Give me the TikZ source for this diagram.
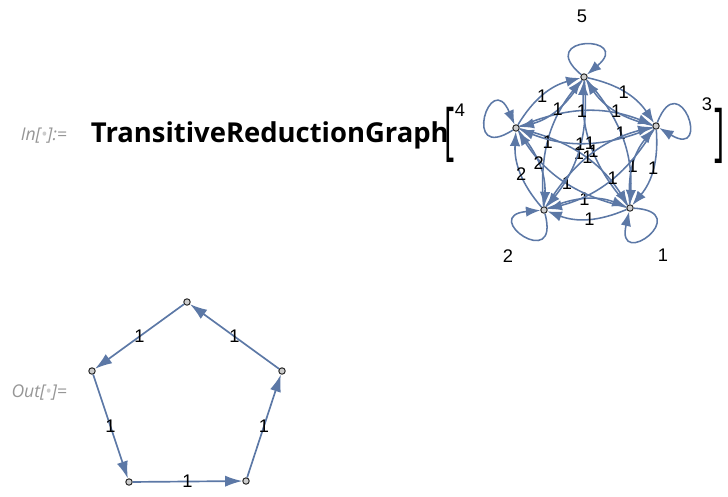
\documentclass[tikz,border=0pt]{standalone}
\usepackage{fontspec}
\usepackage{tikz}
\usetikzlibrary{arrows.meta}
\newfontfamily\labfont{Liberation Sans}
\newfontfamily\osfont{Open Sans}
\definecolor{edgeblue}{RGB}{92,120,166}
\definecolor{promptgray}{RGB}{150,150,150}
\tikzset{>=stealth}
\tikzset{
  vert/.style={circle, draw=black!85, fill=black!20, line width=0.7pt, minimum size=1.6mm, inner sep=0pt},
  edge/.style={-{Latex[length=3.6mm,width=2.6mm]}, line width=1.1pt, edgeblue},
  bigedge/.style={-{Latex[length=4.3mm,width=2.8mm]}, line width=1.2pt, edgeblue},
  wt/.style={font=\labfont\fontsize{13}{13}\selectfont, text=black, inner sep=1pt},
  prompt/.style={font=\osfont\itshape\fontsize{12.5}{12.5}\selectfont, text=promptgray, anchor=base east},
  bracket/.style={font=\osfont\fontsize{22}{22}\selectfont, inner sep=0pt},
}

\begin{document}
\begin{tikzpicture}[x=0.025cm, y=0.025cm]
      \useasboundingbox (0,0) rectangle (728,496);
      % input line
      \node[prompt] (in) at (72,356) {In[\textcolor{black!20}{\textbullet}]:=};
      \node[anchor=base west, font=\osfont\bfseries\fontsize{19.5}{19.5}\selectfont] (fn) at (86,354) {TransitiveReductionGraph};
      \node[bracket] (lb) at (450,361) {\scalebox{1}[2.05]{[}};
      \node[bracket] (rb) at (720,360) {\scalebox{1}[2.05]{]}};
      % input graph
      \node[vert] (v1) at (630,288) {};
      \node[vert] (v2) at (544,286) {};
      \node[vert] (v3) at (656,370) {};
      \node[vert] (v4) at (516,368) {};
      \node[vert] (v5) at (584,419) {};
      \node[wt] (l1) at (663,241) {1};
      \node[wt] (l2) at (508,240) {2};
      \node[wt] (l3) at (707,392) {3};
      \node[wt] (l4) at (460,386) {4};
      \node[wt] (l5) at (582,480) {5};
      \foreach \s/\t/\w in {1/2/1,2/1/1,1/3/1,3/1/1,1/4/1,4/1/1,1/5/1,5/1/1,2/3/1,3/2/1,
                           2/4/2,4/2/2,2/5/1,5/2/1,3/4/1,4/3/1,3/5/1,5/3/1,4/5/1,5/4/1}
        \draw[edge] (v\s) to[bend left=22] node[wt, pos=0.47] {\w} (v\t);
      \foreach \v/\o/\i in {1/357/257,2/285/185,3/69/-31,4/213/113,5/140/40}
        \draw[edge] (v\v) to[out=\o, in=\i, min distance=1.55cm] (v\v);
      % output line
      \node[prompt] (out) at (72,99) {Out[\textcolor{black!20}{\textbullet}]=};
      \node[vert] (b1) at (187,194) {};
      \node[vert] (b2) at (92,125) {};
      \node[vert] (b3) at (129,14) {};
      \node[vert] (b4) at (246,15) {};
      \node[vert] (b5) at (282,125) {};
      \draw[bigedge] (b1) -- node[wt] {1} (b2);
      \draw[bigedge] (b2) -- node[wt] {1} (b3);
      \draw[bigedge] (b3) -- node[wt] {1} (b4);
      \draw[bigedge] (b4) -- node[wt] {1} (b5);
      \draw[bigedge] (b5) -- node[wt] {1} (b1);
\end{tikzpicture}
\end{document}
